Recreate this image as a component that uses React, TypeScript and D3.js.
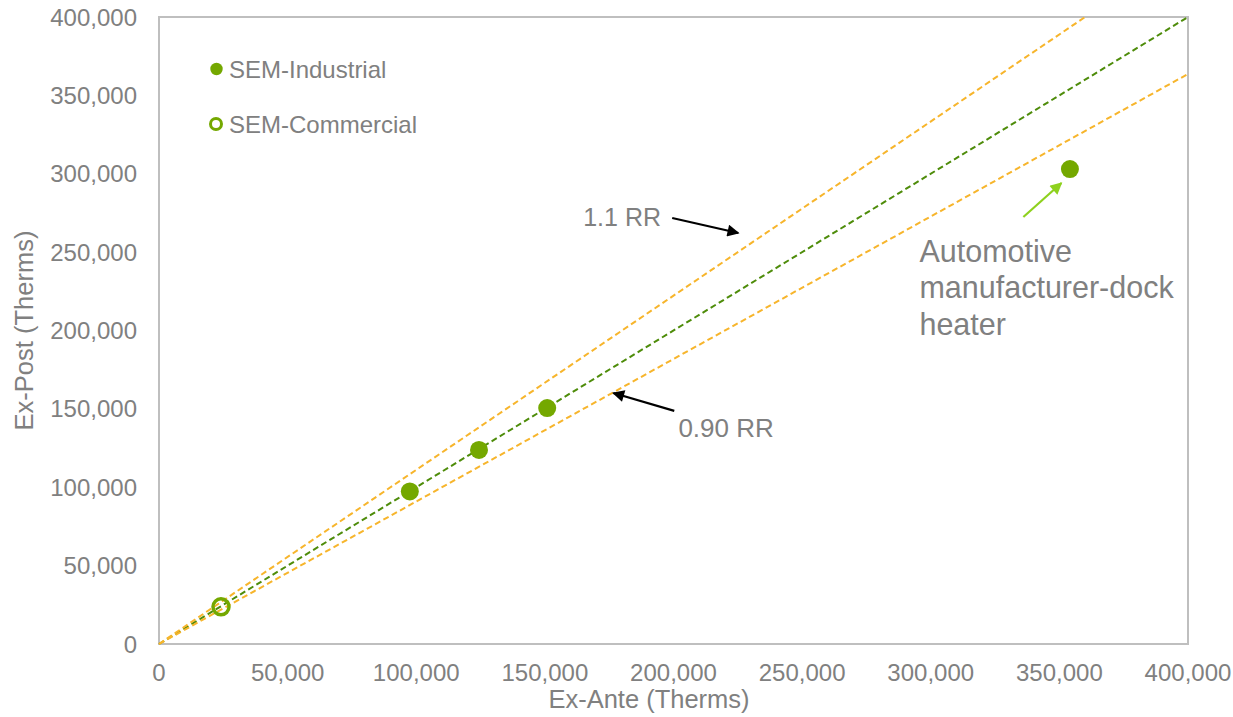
import React from "react";
import * as d3 from "d3";

const industrialX = [97500, 124400, 150900, 354100];
const industrialY = [97300, 123800, 150500, 303000];
const commercialX = [24100];
const commercialY = [23700];
const xTicks = [0, 50000, 100000, 150000, 200000, 250000, 300000, 350000, 400000];
const yTicks = [0, 50000, 100000, 150000, 200000, 250000, 300000, 350000, 400000];
const refSlopes = [1, 1 / 0.9, 1 / 1.1];
const refColors = ["#4E8C0A", "#F7B52C", "#F7B52C"];

const W = 1233, H = 717;
const M = { left: 159, right: 1188, top: 17, bottom: 644 };
const GRAY = "#808080";
const MARK = "#74A800";
const FONT = "'Liberation Sans', Arial, sans-serif";

export default function App() {
  const x = d3.scaleLinear().domain([0, 400000]).range([M.left, M.right]);
  const y = d3.scaleLinear().domain([0, 400000]).range([M.bottom, M.top]);
  const fmt = d3.format(",");

  const refLines = refSlopes.map((s, i) => {
    const xEnd = Math.min(400000, 400000 / s);
    const line = d3.line<[number, number]>().x(d => x(d[0])).y(d => y(d[1]));
    return { d: line([[0, 0], [xEnd, xEnd * s]]) as string, color: refColors[i], key: i };
  });

  const arrows = [
    { from: [199500, 271800], to: [225200, 262200], color: "#000", id: "ah-black" },
    { from: [200300, 148700], to: [176600, 160100], color: "#000", id: "ah-black" },
    { from: [336000, 272400], to: [350800, 294100], color: "#8ED11E", id: "ah-green" },
  ];

  const annX = x(295600);
  const annY = y(243700);

  return (
    <svg width={W} height={H} style={{ position: "absolute", left: 0, top: 0, background: "#fff" }} fontFamily={FONT}>
      <defs>
        <marker id="ah-black" viewBox="0 0 10 10" refX="9" refY="5" markerUnits="userSpaceOnUse" markerWidth="15" markerHeight="12" orient="auto">
          <path d="M0,0 L10,5 L0,10 z" fill="#000" />
        </marker>
        <marker id="ah-green" viewBox="0 0 10 10" refX="9" refY="5" markerUnits="userSpaceOnUse" markerWidth="15" markerHeight="12" orient="auto">
          <path d="M0,0 L10,5 L0,10 z" fill="#8ED11E" />
        </marker>
      </defs>
      <rect x={0} y={0} width={W} height={H} fill="#fff" />
      <rect x={x(0)} y={y(400000)} width={x(400000) - x(0)} height={y(0) - y(400000)} fill="none" stroke="#BFBFBF" strokeWidth={2} />
      {yTicks.map(t => (
        <text key={"y" + t} x={x(0) - 22} y={y(t)} textAnchor="end" dominantBaseline="central" fontSize={24} fill={GRAY}>{fmt(t)}</text>
      ))}
      {xTicks.map(t => (
        <text key={"x" + t} x={x(t)} y={672} textAnchor="middle" dominantBaseline="central" fontSize={24} fill={GRAY}>{fmt(t)}</text>
      ))}
      <text x={649} y={699} textAnchor="middle" dominantBaseline="central" fontSize={25.5} fill={GRAY}>Ex-Ante (Therms)</text>
      <text transform={`translate(24,${(M.top + M.bottom) / 2}) rotate(-90)`} textAnchor="middle" dominantBaseline="central" fontSize={25.5} fill={GRAY}>Ex-Post (Therms)</text>
      {refLines.map(l => (
        <path key={l.key} d={l.d} fill="none" stroke={l.color} strokeWidth={2} strokeDasharray="6 3.5" />
      ))}
      {industrialX.map((v, i) => (
        <circle key={"i" + i} cx={x(v)} cy={y(industrialY[i])} r={9} fill={MARK} />
      ))}
      {commercialX.map((v, i) => (
        <circle key={"c" + i} cx={x(v)} cy={y(commercialY[i])} r={8} fill="none" stroke={MARK} strokeWidth={3.5} />
      ))}
      <circle cx={216.5} cy={69} r={6.2} fill={MARK} />
      <text x={229} y={69} dominantBaseline="central" fontSize={24} fill={GRAY}>SEM-Industrial</text>
      <circle cx={216} cy={124} r={5.5} fill="none" stroke={MARK} strokeWidth={3} />
      <text x={229} y={124} dominantBaseline="central" fontSize={24} fill={GRAY}>SEM-Commercial</text>
      {arrows.map((a, i) => (
        <line key={"a" + i} x1={x(a.from[0])} y1={y(a.from[1])} x2={x(a.to[0])} y2={y(a.to[1])} stroke={a.color} strokeWidth={2.2} markerEnd={`url(#${a.id})`} />
      ))}
      <text x={x(164900)} y={y(272400)} dominantBaseline="central" fontSize={25} fill={GRAY}>1.1 RR</text>
      <text x={x(201900)} y={y(137800)} dominantBaseline="central" fontSize={26} fill={GRAY}>0.90 RR</text>
      <text x={annX} y={annY} fontSize={30.5} fill={GRAY}>
        <tspan x={annX} dy={0}>Automotive</tspan>
        <tspan x={annX} dy={36.3}>manufacturer-dock</tspan>
        <tspan x={annX} dy={36.3}>heater</tspan>
      </text>
    </svg>
  );
}
